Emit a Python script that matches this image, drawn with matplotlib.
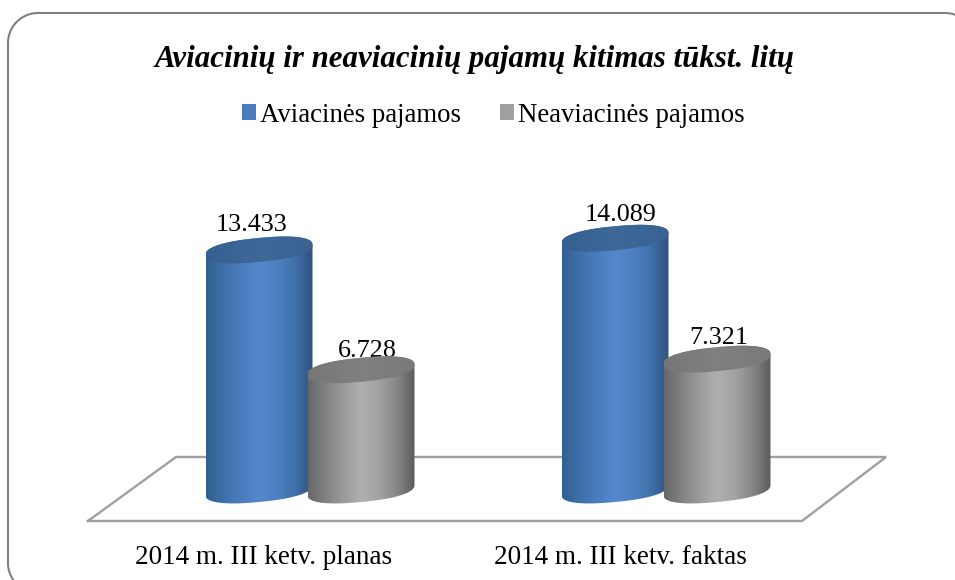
import numpy as np
import matplotlib
matplotlib.use('Agg')
import matplotlib.pyplot as plt
from matplotlib.colors import LinearSegmentedColormap
from matplotlib.patches import Patch, Polygon

plt.rcParams['font.family'] = ['Liberation Serif', 'DejaVu Serif']

categories = ['2014 m. III ketv. planas', '2014 m. III ketv. faktas']
series_names = ['Aviacinės pajamos', 'Neaviacinės pajamos']
aviation = [13433, 14089]
non_aviation = [6728, 7321]
title = 'Aviacinių ir neaviacinių pajamų kitimas tūkst. litų'

W, H = 955, 580
# axes run over the whole figure, limits chosen so value 0 sits on pixel row 490
PX_PER_VALUE = 0.01787
PX_PER_CAT = 356.0
BASE_ROW = 490
FIRST_CAT_PX = 310
XLIM = (-FIRST_CAT_PX / PX_PER_CAT, (W - FIRST_CAT_PX) / PX_PER_CAT)
YLIM = ((BASE_ROW - H) / PX_PER_VALUE, BASE_ROW / PX_PER_VALUE)

blue_ramp = ['#33608f', '#3e70aa', '#4a7dbd', '#5488cd', '#4d80c0', '#3f70aa', '#2f5280']
grey_ramp = ['#686868', '#828282', '#9c9c9c', '#b0b0b0', '#a2a2a2', '#868686', '#5c5c5c']
blue_top = ['#35608f', '#3d6898', '#3a6391']
grey_top = ['#777777', '#808080', '#7a7a7a']

# label nudges in pixels (dx, gap above the cap centre), one per bar
aviation_label = [(-7, 25), (6, 23)]
non_aviation_label = [(6, 19), (2, 21)]


def px(x, y):
    return XLIM[0] + x / PX_PER_CAT, (BASE_ROW - y) / PX_PER_VALUE


def rim(cx, value, t):
    # slanted end of a cylinder, a = half width, s = slant, b = half height
    a, s, b = 53.5, 5.0, 12.0
    # exponent below 1 makes the ends a bit rounder than a plain ellipse
    c = np.sign(np.cos(t)) * np.abs(np.cos(t)) ** 0.85
    d = np.sign(np.sin(t)) * np.abs(np.sin(t)) ** 0.85
    x = cx + a / PX_PER_CAT * c
    y = value + (s * c + b * d) / PX_PER_VALUE
    return x, y


def gradient(ax, colors, x0, x1, y0, y1, clip):
    cmap = LinearSegmentedColormap.from_list('ramp', colors)
    grad = np.linspace(0, 1, 256).reshape(1, -1)
    im = ax.imshow(grad, cmap=cmap, extent=(x0, x1, y0, y1), aspect='auto', zorder=clip.get_zorder())
    im.set_clip_path(clip)


def cylinder(ax, cx, value, ramp, top, z):
    half = 53.5 / PX_PER_CAT
    pad = 18 / PX_PER_VALUE
    # body: bottom arc from left to right, then back along the upper rim
    bx, by = rim(cx, 0, np.linspace(np.pi, 2 * np.pi, 80))
    ux, uy = rim(cx, value, np.linspace(0, np.pi, 80))
    body = Polygon(np.column_stack([np.r_[bx, ux], np.r_[by, uy]]), closed=True,
                   facecolor='none', edgecolor='none', zorder=z)
    ax.add_patch(body)
    gradient(ax, ramp, cx - half, cx + half, -pad, value + pad, body)
    ex, ey = rim(cx, value, np.linspace(0, 2 * np.pi, 160))
    cap = Polygon(np.column_stack([ex, ey]), closed=True, facecolor='none', edgecolor='none', zorder=z + 0.1)
    ax.add_patch(cap)
    gradient(ax, top, cx - half, cx + half, value - pad, value + pad, cap)


fig = plt.figure(figsize=(W / 100, H / 100), dpi=100)
ax = fig.add_axes([0, 0, 1, 1])
ax.axis('off')

# chart frame, cut by the right and bottom picture edge
frame_x0, frame_y0 = 8, 13
frame_x1, frame_y1 = 975, 593
r = 30
corner = np.linspace(0, np.pi / 2, 24)
frame_pts = np.vstack([
    np.column_stack([frame_x0 + r - r * np.cos(corner), frame_y1 - r + r * np.sin(corner)])[::-1],
    np.column_stack([frame_x0 + r - r * np.cos(corner), frame_y0 + r - r * np.sin(corner)]),
    np.column_stack([frame_x1 - r + r * np.sin(corner), frame_y0 + r - r * np.cos(corner)]),
])
fx, fy = px(frame_pts[:, 0], frame_pts[:, 1])
ax.plot(fx, fy, color='#808080', lw=1.5, zorder=1)

# floor of the 3D plot
fl_x, fl_y = px(np.array([88, 802, 886, 176, 88]), np.array([521, 521, 457, 457, 521]))
ax.plot(fl_x, fl_y, color='#a0a0a0', lw=1.7, zorder=2, solid_joinstyle='miter')

offset = 51 / PX_PER_CAT
for i in range(len(categories)):
    cylinder(ax, i - offset, aviation[i], blue_ramp, blue_top, 3)
    cylinder(ax, i + offset, non_aviation[i], grey_ramp, grey_top, 4)
    bars = [(i - offset, aviation[i], aviation_label[i]), (i + offset, non_aviation[i], non_aviation_label[i])]
    for cx, val, (dx, gap) in bars:
        ax.text(cx + dx / PX_PER_CAT, val + gap / PX_PER_VALUE, f'{val / 1000:.3f}',
                ha='center', va='center', fontsize=18.8, color='black', zorder=2.5)
    ax.text(i - 46 / PX_PER_CAT, px(0, 557)[1], categories[i], ha='center', va='center',
            fontsize=19.5, color='black')

ax.set_xlim(*XLIM)
ax.set_ylim(*YLIM)

ax.text(px(475, 0)[0], px(0, 60)[1], title, ha='center', va='center', fontsize=22.2,
        fontweight='bold', fontstyle='italic', color='black')

handles = [Patch(facecolor='#4a7dbd', edgecolor='none', label=series_names[0]),
           Patch(facecolor='#a0a0a0', edgecolor='none', label=series_names[1])]
ax.legend(handles=handles, ncol=2, loc='center', bbox_to_anchor=(493 / W, 1 - 115 / H),
          frameon=False, fontsize=19.3, handlelength=0.52, handleheight=0.52,
          handletextpad=0.15, columnspacing=1.45)

fig.savefig('out.png', dpi=100)
